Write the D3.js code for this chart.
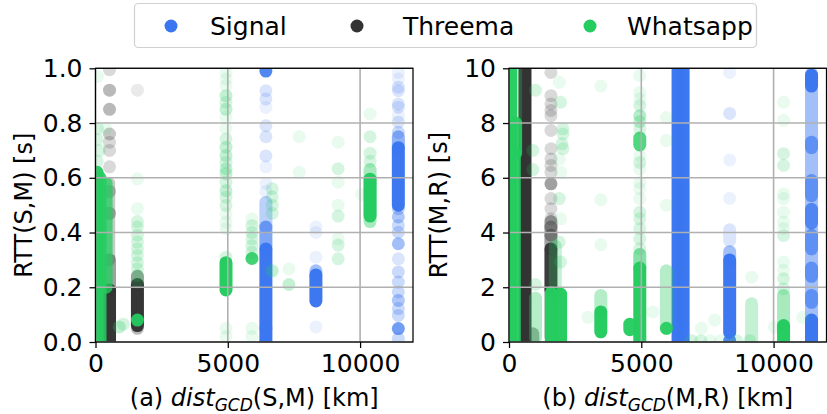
<!DOCTYPE html>
<html><head><meta charset="utf-8">
<script src="https://cdn.jsdelivr.net/npm/d3@7"></script>
<style>
body{margin:0;background:#fff}
svg{display:block}
text{font-family:'DejaVu Sans',sans-serif;fill:#000}
</style>
</head><body>
<svg id="c" width="827" height="414"></svg>
<script>
// ---------------- DATA ----------------
const seriesNames = ["Signal", "Threema", "Whatsapp"];
const xTicks = [0, 5000, 10000];
const yTicksA = [0, 0.2, 0.4, 0.6, 0.8, 1.0];
const yTicksB = [0, 2, 4, 6, 8, 10];

// runs: [distance km, RTT low, RTT high, overlapping measurements]
// points: [distance km, RTT, overlapping measurements]
// (a) RTT(S,M) [s]
const signalA_runs = [
  [6440, 0.01, 0.34, 40], [6440, 0.34, 0.42, 10], [6440, 0.42, 0.51, 4],
  [8330, 0.15, 0.245, 40], [8330, 0.245, 0.26, 6],
  [11446, 0.5, 0.71, 40], [11446, 0.71, 0.75, 8]
];
const signalA_points = [
  [6440, 0.99, 20], [6440, 0.918, 2], [6440, 0.888, 2], [6440, 0.857, 1], [6440, 0.79, 2],
  [6440, 0.75, 2], [6440, 0.68, 2], [6440, 0.64, 1], [6440, 0.58, 1], [6440, 0.55, 1],
  [6440, 0.05, 8], [6440, 0.0, 20],
  [8330, 0.42, 1], [8330, 0.40, 1], [8330, 0.31, 1], [8330, 0.055, 1],
  [11446, 0.985, 1], [11446, 0.961, 1], [11446, 0.931, 2], [11446, 0.918, 2], [11446, 0.87, 2],
  [11446, 0.858, 2], [11446, 0.827, 1], [11446, 0.803, 2], [11446, 0.766, 3], [11446, 0.487, 4],
  [11446, 0.457, 5], [11446, 0.426, 3], [11446, 0.401, 3], [11446, 0.359, 6], [11446, 0.304, 2],
  [11446, 0.256, 3], [11446, 0.219, 3], [11446, 0.183, 3], [11446, 0.152, 5], [11446, 0.122, 3],
  [11446, 0.097, 3], [11446, 0.049, 12], [11446, 0.012, 3]
];
const threemaA_runs = [
  [530, 0.0, 0.19, 40], [530, 0.19, 0.3, 6], [500, 0.3, 0.58, 3],
  [1585, 0.06, 0.21, 40], [1585, 0.21, 0.24, 6]
];
const threemaA_points = [
  [530, 0.995, 2], [530, 0.92, 4], [530, 0.85, 4], [530, 0.76, 3], [530, 0.73, 2],
  [530, 0.70, 2], [530, 0.64, 2], [530, 0.55, 3], [530, 0.47, 4],
  [1585, 0.05, 4], [1585, 0.92, 1]
];
const whatsappA_runs = [
  [60, 0.0, 0.62, 30], [170, 0.0, 0.6, 20], [400, 0.2, 0.58, 14],
  [4932, 0.19, 0.29, 40],
  [10377, 0.46, 0.595, 40], [10377, 0.44, 0.63, 5]
];
const whatsappA_points = [
  [80, 0.97, 1], [80, 0.78, 2], [60, 0.74, 2], [150, 0.70, 2], [60, 0.66, 2], [400, 0.78, 1],
  [900, 0.055, 3], [1050, 0.065, 2],
  [1585, 0.08, 25], [1585, 0.596, 1], [1585, 0.487, 1], [1585, 0.44, 2], [1585, 0.42, 2],
  [1585, 0.39, 2], [1585, 0.365, 2], [1585, 0.34, 2], [1585, 0.316, 2], [1585, 0.29, 2],
  [1585, 0.267, 2], [1585, 0.243, 2], [1585, 0.219, 2],
  [4932, 0.985, 1], [4932, 0.961, 1], [4932, 0.937, 1], [4932, 0.90, 3], [4932, 0.876, 2],
  [4932, 0.85, 3], [4932, 0.821, 1], [4932, 0.78, 1], [4932, 0.742, 2], [4932, 0.712, 3],
  [4932, 0.681, 3], [4932, 0.657, 2], [4932, 0.633, 3], [4932, 0.615, 3], [4932, 0.584, 2],
  [4932, 0.553, 3], [4932, 0.529, 2], [4932, 0.499, 2], [4932, 0.468, 1], [4932, 0.438, 1],
  [4932, 0.414, 1], [4932, 0.05, 1], [4932, 0.02, 1], [4932, 0.31, 2],
  [5913, 0.305, 20], [5913, 0.449, 1], [5913, 0.425, 2], [5913, 0.40, 2], [5913, 0.377, 2],
  [5913, 0.352, 2], [5913, 0.328, 2], [5913, 0.05, 1], [5913, 0.02, 1],
  [6680, 0.56, 2], [6680, 0.53, 2], [6680, 0.50, 2], [6680, 0.47, 2], [6680, 0.26, 3],
  [7310, 0.267, 1], [7310, 0.21, 3], [7700, 0.75, 1], [7700, 0.62, 1],
  [9170, 0.73, 1], [9170, 0.633, 2], [9170, 0.584, 1], [9170, 0.5, 1], [9170, 0.46, 2],
  [9170, 0.377, 1], [9170, 0.354, 2], [9170, 0.304, 2],
  [10063, 0.54, 1],
  [10377, 0.833, 1], [10377, 0.75, 2], [10377, 0.69, 2], [10377, 0.66, 2]
];

// (b) RTT(M,R) [s]
const signalB_runs = [
  [6390, 0, 10, 40], [6580, 0, 10, 40],
  [8340, 0.35, 3.0, 40], [8340, 3.0, 3.3, 6], [8340, 3.7, 4.1, 2],
  [11434, 0, 9.8, 6], [11434, 9.35, 9.75, 40], [11434, 0, 0.8, 40], [11434, 7.1, 7.3, 10],
  [11434, 5.35, 5.9, 10], [11434, 4.35, 4.85, 15], [11434, 3.4, 3.9, 10], [11434, 2.4, 2.7, 10],
  [11434, 1.45, 1.7, 10]
];
const signalB_points = [
  [8340, 9.85, 1], [8340, 8.35, 2], [8340, 6.65, 1], [8340, 5.25, 1], [8340, 0.05, 20]
];
const threemaB_runs = [
  [604, 0, 10, 60], [900, 0, 0.3, 5],
  [1585, 1.9, 3.4, 30], [1585, 3.4, 4.4, 6], [1585, 0.2, 1.9, 5]
];
const threemaB_points = [
  [1585, 9.85, 2], [1585, 9.0, 2], [1585, 8.7, 2], [1585, 8.46, 2], [1585, 8.27, 2],
  [1585, 7.73, 2], [1585, 7.06, 2], [1585, 6.69, 2], [1585, 6.45, 2], [1585, 6.2, 2],
  [1585, 5.78, 6], [1585, 5.24, 2], [1585, 4.87, 2], [1585, 4.5, 2], [1585, 4.2, 5], [1585, 3.9, 5]
];
const whatsappB_runs = [
  [60, 0, 10, 30], [200, 0, 6.9, 25], [250, 6.9, 8.0, 25], [250, 8.0, 10, 3],
  [1000, 0.15, 1.6, 4],
  [1600, 0, 1.8, 40], [1950, 0, 1.75, 40], [1750, 1.8, 3.5, 3],
  [3470, 0.37, 1.1, 40], [3470, 1.1, 1.7, 4],
  [4943, 0, 2.7, 40], [4943, 2.7, 3.2, 8], [4943, 7.2, 7.45, 15],
  [4566, 0.45, 0.65, 30],
  [5950, 0.5, 2.6, 4],
  [9170, 0, 1.4, 3],
  [10377, 0, 0.6, 40], [10377, 0.6, 1.7, 5]
];
const whatsappB_points = [
  [1000, 2.1, 2], [1000, 9.2, 2], [900, 7.0, 2], [900, 6.3, 2],
  [1900, 9.49, 1], [1950, 8.76, 2], [2040, 7.79, 2], [2040, 7.6, 2], [2000, 7.24, 2],
  [2040, 7.06, 2], [1900, 6.69, 1], [1950, 6.2, 1], [1900, 5.24, 2], [1950, 4.5, 1],
  [1900, 3.65, 2], [1950, 2.92, 2],
  [3470, 9.35, 1], [3470, 5.2, 1], [3470, 3.55, 1], [2980, 0.9, 1],
  [4943, 9.73, 1], [4943, 9.12, 1], [4943, 8.88, 1], [4943, 8.64, 2], [4943, 8.27, 4],
  [4943, 8.05, 3], [4943, 7.79, 2], [4943, 6.81, 1], [4943, 6.56, 2], [4943, 6.32, 1],
  [4943, 5.83, 1], [4943, 5.6, 1], [4943, 5.24, 1], [4943, 4.74, 2], [4943, 4.5, 2],
  [4943, 4.14, 2], [4943, 3.77, 2], [4943, 3.41, 2],
  [5950, 8.2, 1], [5950, 7.36, 1], [5950, 5.0, 1], [5950, 0.5, 25], [5434, 1.1, 1],
  [7270, 0.5, 1], [7774, 0.8, 1],
  [6900, 0.05, 2], [7250, 0.05, 2], [7600, 0.05, 1], [8000, 0.05, 1], [8600, 0.05, 2], [9100, 0.05, 2],
  [9170, 2.37, 1],
  [10377, 8.76, 1], [10377, 8.1, 1], [10377, 6.88, 2], [10377, 6.45, 2], [10377, 5.41, 1],
  [10377, 5.24, 1], [10377, 4.74, 1], [10377, 4.38, 1], [10377, 4.14, 1], [10377, 3.89, 2],
  [10377, 2.92, 1], [10377, 2.62, 1], [10377, 2.31, 2], [10377, 1.95, 2],
  [10030, 0.55, 1], [11100, 0.9, 1]
];

// ---------------- STYLE / LAYOUT ----------------
const colors = {Signal: "#3a76f0", Threema: "#333333", Whatsapp: "#25cc60"};
const R = 6.5;
const alphaOne = 0.1;
const op = n => 1 - Math.pow(1 - alphaOne, n);

const svg = d3.select("#c");

const panels = [
  {id: "a", x0: 95.5, x1: 413, yMax: 1.0, yTicks: yTicksA, yFmt: d3.format(".1f"),
   ylabel: "RTT(S,M) [s]", ylabX: 32, pre: "(a) ", post: "(S,M) [km]",
   data: {Signal: [signalA_runs, signalA_points], Threema: [threemaA_runs, threemaA_points], Whatsapp: [whatsappA_runs, whatsappA_points]}},
  {id: "b", x0: 509, x1: 826.5, yMax: 10, yTicks: yTicksB, yFmt: d3.format("d"),
   ylabel: "RTT(M,R) [s]", ylabX: 447, pre: "(b) ", post: "(M,R) [km]",
   data: {Signal: [signalB_runs, signalB_points], Threema: [threemaB_runs, threemaB_points], Whatsapp: [whatsappB_runs, whatsappB_points]}}
];
const yTop = 68.3, yBot = 342;

panels.forEach(p => {
  const x = d3.scaleLinear().domain([0, 12000]).range([p.x0, p.x1]);
  const y = d3.scaleLinear().domain([0, p.yMax]).range([yBot, yTop]);
  const g = svg.append("g");
  const clipId = "clip-" + p.id;
  svg.append("clipPath").attr("id", clipId).append("rect")
    .attr("x", p.x0).attr("y", yTop).attr("width", p.x1 - p.x0).attr("height", yBot - yTop);
  const plot = g.append("g").attr("clip-path", `url(#${clipId})`);

  seriesNames.forEach(s => {
    const [runs, pts] = p.data[s];
    plot.append("g").selectAll("rect").data(runs).join("rect")
      .attr("x", d => x(d[0]) - R)
      .attr("y", d => y(d[2]) - R)
      .attr("width", 2 * R)
      .attr("height", d => y(d[1]) - y(d[2]) + 2 * R)
      .attr("rx", R).attr("ry", R)
      .attr("fill", colors[s]).attr("fill-opacity", d => op(d[3]));
    plot.append("g").selectAll("circle").data(pts).join("circle")
      .attr("cx", d => x(d[0])).attr("cy", d => y(d[1])).attr("r", R)
      .attr("fill", colors[s]).attr("fill-opacity", d => op(d[2]));
  });

  // grid (drawn above markers, as in the reference)
  const grid = g.append("g").attr("stroke", "#b0b0b0").attr("stroke-width", 1.6);
  grid.selectAll(".gx").data(xTicks).join("line")
    .attr("x1", d => x(d)).attr("x2", d => x(d)).attr("y1", yTop).attr("y2", yBot);
  grid.selectAll(".gy").data(p.yTicks).join("line")
    .attr("x1", p.x0).attr("x2", p.x1).attr("y1", d => y(d)).attr("y2", d => y(d));

  // axes
  const xAxis = d3.axisBottom(x).tickValues(xTicks).tickSize(6).tickPadding(6).tickFormat(d3.format("d"));
  const yAxis = d3.axisLeft(y).tickValues(p.yTicks).tickSize(6).tickPadding(7).tickFormat(p.yFmt);
  const gx = g.append("g").attr("transform", `translate(0,${yBot})`).call(xAxis);
  const gy = g.append("g").attr("transform", `translate(${p.x0},0)`).call(yAxis);
  [gx, gy].forEach(a => {
    a.select(".domain").remove();
    a.selectAll(".tick line").attr("stroke", "#000").attr("stroke-width", 1.25);
    a.selectAll(".tick text").attr("font-size", 25).attr("font-family", "DejaVu Sans").attr("fill", "#000");
  });
  // spines
  g.append("rect").attr("x", p.x0).attr("y", yTop).attr("width", p.x1 - p.x0).attr("height", yBot - yTop)
    .attr("fill", "none").attr("stroke", "#000").attr("stroke-width", 1.25);

  // labels
  g.append("text").attr("transform", `translate(${p.ylabX},${(yTop + yBot) / 2}) rotate(-90)`)
    .attr("text-anchor", "middle").attr("font-size", 24).text(p.ylabel);
  const xl = g.append("text").attr("x", (p.x0 + p.x1) / 2).attr("y", 406)
    .attr("text-anchor", "middle").attr("font-size", 24);
  xl.append("tspan").text(p.pre);
  xl.append("tspan").attr("font-style", "italic").text("dist");
  xl.append("tspan").attr("font-style", "italic").attr("font-size", 17).attr("dy", 5).text("GCD");
  xl.append("tspan").attr("dy", -5).text(p.post);
});

// legend
const leg = svg.append("g");
leg.append("rect").attr("x", 134.5).attr("y", 3.5).attr("width", 622).attr("height", 44)
  .attr("rx", 4).attr("fill", "#fff").attr("fill-opacity", 0.8).attr("stroke", "#d0d0d0").attr("stroke-width", 1.2);
const legX = [171, 357, 590];
const legTextX = [210, 403, 627];
seriesNames.forEach((s, i) => {
  leg.append("circle").attr("cx", legX[i]).attr("cy", 26).attr("r", 6.5).attr("fill", colors[s]);
  leg.append("text").attr("x", legTextX[i]).attr("y", 35).attr("font-size", 25).text(s);
});
</script>
</body></html>
